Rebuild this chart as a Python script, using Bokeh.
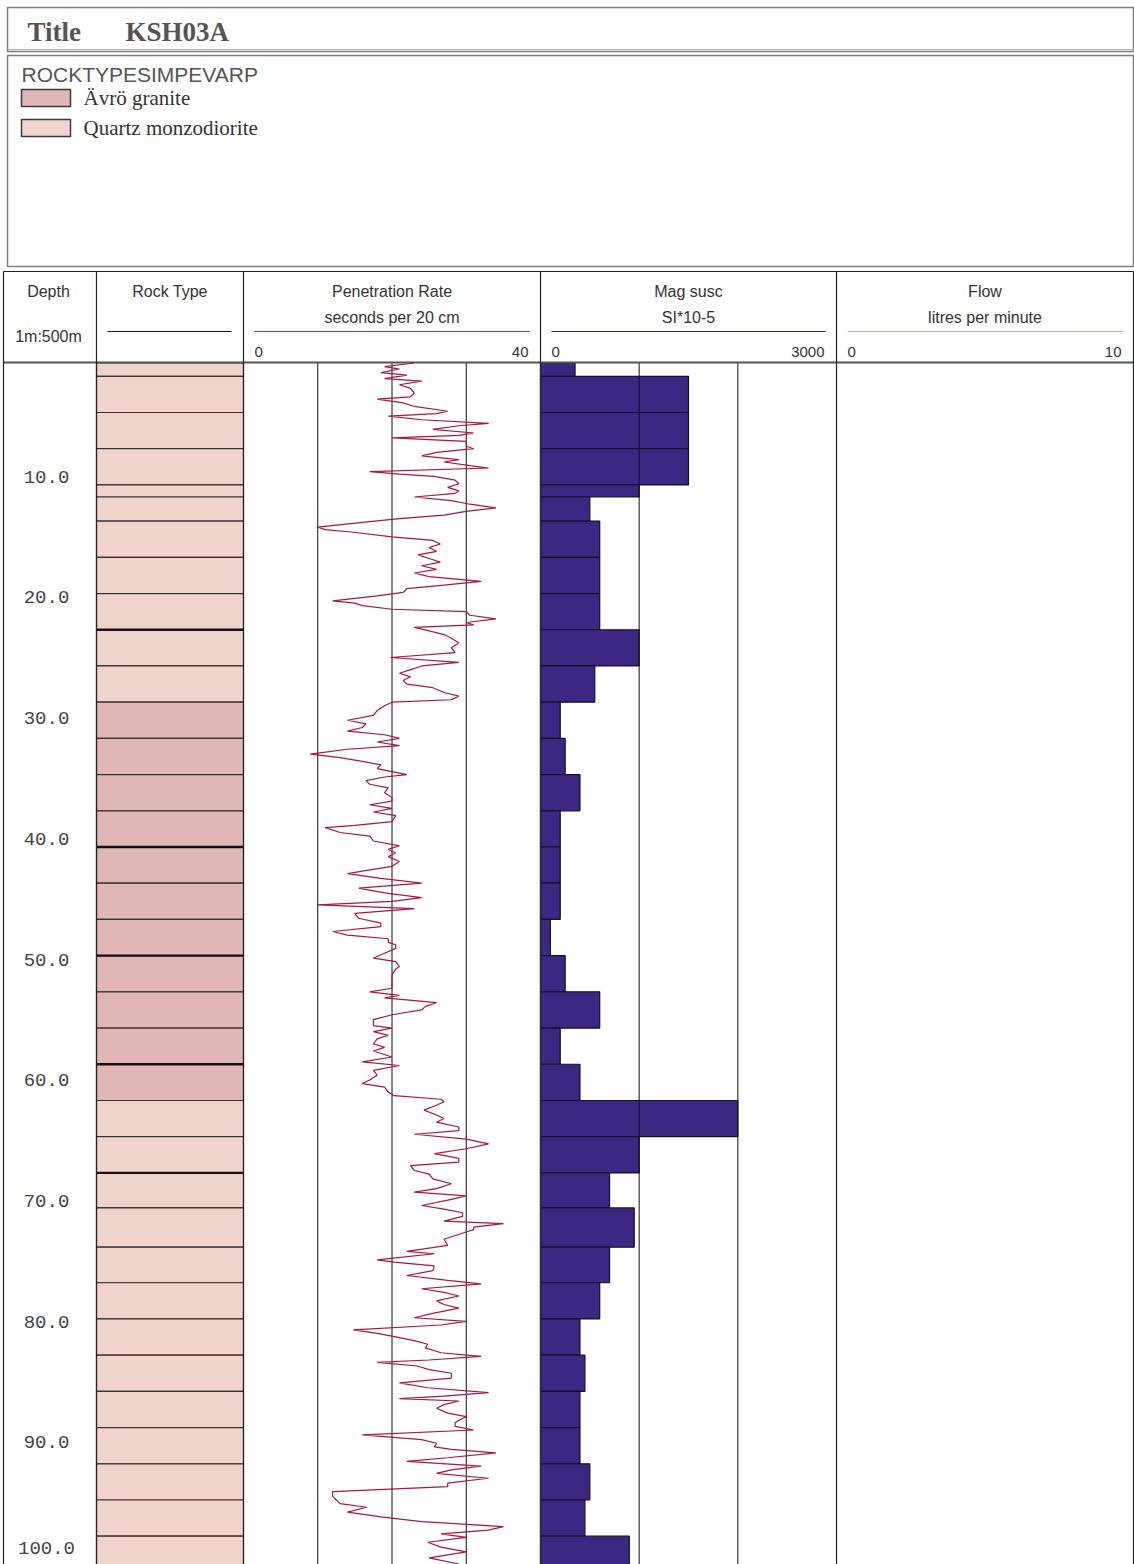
import numpy as np
from bokeh.plotting import figure
from bokeh.models import Range1d
from bokeh.embed import file_html
from bokeh.resources import INLINE
from bokeh.core.properties import value

# ---------------- data ----------------
title_label = "Title"
borehole = "KSH03A"
legend_title = "ROCKTYPESIMPEVARP"
rock_types = ["Ävrö granite", "Quartz monzodiorite"]
rock_colors = ["#e0b6b6", "#efd4cd"]

# interval boundaries (m) shared by rock type and mag susc logs
boundaries = [0, 1.1, 4.1, 7.1, 10.1, 11.1, 13.1, 16.1, 19.1, 22.1, 25.1, 28.1,
              31.1, 34.1, 37.1, 40.1, 43.1, 46.1, 49.1, 52.1, 55.1, 58.1, 61.1,
              64.1, 67.1, 70.0, 73.25, 76.2, 79.2, 82.2, 85.2, 88.2, 91.2, 94.2,
              97.2, 100.2]
rock_unit = (["Quartz monzodiorite"] * 11 + ["Ävrö granite"] * 11 +
             ["Quartz monzodiorite"] * 13)
rock_heavy_contacts = [22.1, 40.1, 49.1, 58.1, 67.1]
mag_susc = [350, 1500, 1500, 1500, 1000, 500, 600, 600, 600, 1000, 550, 200,
            250, 400, 200, 200, 200, 100, 250, 600, 200, 400, 2000, 1000, 700,
            950, 700, 600, 400, 450, 400, 400, 500, 450, 900]

pen_depth = [0.0, 0.3, 0.5, 0.8, 1.0, 1.3, 1.5, 1.8, 2.1, 2.5, 2.8, 3.0, 3.3, 3.6,
             4.0, 4.2, 4.4, 4.7, 5.0, 5.2, 5.5, 5.8, 6.0, 6.2, 6.5, 6.9, 7.1, 7.4,
             7.7, 8.0, 8.2, 8.5, 8.7, 9.0, 9.2, 9.4, 9.7, 10.0, 10.3, 10.6, 10.8,
             11.1, 11.4, 11.7, 12.0, 12.3, 12.6, 12.9, 13.2, 13.6, 13.8, 14.0,
             14.4, 14.7, 15.0, 15.3, 15.6, 15.9, 16.2, 16.5, 16.8, 17.1, 17.4,
             17.7, 18.1, 18.4, 18.7, 19.0, 19.3, 19.7, 19.9, 20.1, 20.4, 20.6,
             20.9, 21.2, 21.5, 21.7, 21.9, 22.2, 22.5, 22.8, 23.2, 23.6, 24.0,
             24.4, 24.8, 25.1, 25.4, 25.7, 26.0, 26.3, 26.6, 26.9, 27.3, 27.6,
             27.9, 28.1, 28.4, 28.8, 29.2, 29.6, 29.9, 30.2, 30.5, 30.8, 31.1,
             31.4, 31.7, 32.0, 32.4, 32.7, 33.0, 33.3, 33.6, 34.1, 34.3, 34.6,
             34.9, 35.2, 35.6, 36.0, 36.3, 36.6, 36.9, 37.2, 37.5, 38.0, 38.3,
             38.5, 38.9, 39.2, 39.6, 40.0, 40.3, 40.6, 40.9, 41.3, 41.7, 42.0,
             42.3, 42.7, 43.1, 43.5, 43.9, 44.3, 44.6, 44.9, 45.2, 45.6, 46.0,
             46.4, 46.7, 47.1, 47.4, 47.7, 48.0, 48.2, 48.5, 48.9, 49.3, 49.6,
             50.0, 50.2, 50.7, 51.2, 51.8, 52.1, 52.4, 52.6, 53.0, 53.3, 53.6,
             54.0, 54.4, 54.9, 55.1, 55.4, 55.7, 56.0, 56.4, 56.7, 57.0, 57.5,
             57.9, 58.2, 58.6, 59.0, 59.4, 59.7, 60.0, 60.4, 60.7, 61.0, 61.2,
             61.5, 61.9, 62.3, 62.6, 62.9, 63.3, 63.6, 63.9, 64.3, 64.7, 65.1,
             65.5, 65.9, 66.2, 66.5, 66.9, 67.2, 67.6, 68.0, 68.4, 68.7, 69.0,
             69.3, 69.8, 70.1, 70.4, 70.7, 71.1, 71.3, 71.6, 71.8, 72.0, 72.6,
             73.1, 73.6, 73.8, 74.3, 74.5, 74.8, 75.2, 75.6, 76.0, 76.3, 76.7,
             77.0, 77.3, 77.7, 78.0, 78.3, 78.8, 79.1, 79.4, 79.7, 80.1, 80.4,
             80.6, 81.0, 81.3, 81.6, 82.0, 82.3, 82.6, 82.8, 83.1, 83.4, 83.7,
             84.1, 84.5, 84.9, 85.3, 85.6, 85.8, 86.0, 86.3, 86.6, 87.0, 87.3,
             87.6, 87.8, 88.1, 88.4, 88.8, 89.2, 89.5, 89.8, 90.0, 90.3, 90.7,
             91.0, 91.4, 91.7, 92.0, 92.4, 92.8, 93.1, 93.5, 93.9, 94.2, 94.5,
             94.8, 95.2, 95.6, 96.0, 96.4, 96.7, 97.0, 97.3, 97.7, 98.1, 98.5,
             99.0, 99.5, 100.0]
pen_rate = [23, 19, 21, 18.5, 22, 19, 24, 21, 22.5, 23, 22.5, 18, 21.5, 23,
            27.5, 26, 19.5, 24, 33, 29, 25.5, 31, 29, 20, 30, 30, 31, 26,
            24, 29, 27, 30.5, 33, 17, 21, 25.7, 28.5, 29, 27.5, 29, 28.5,
            23, 28, 30.5, 34, 30, 27, 21, 16, 10, 11, 14.5,
            20, 25.5, 26.5, 25, 26, 23.5, 25, 26.5, 24, 26, 23,
            25, 32, 27, 22, 21.5, 18, 12, 15, 16, 20, 30,
            30.5, 34, 30, 31, 23, 25, 27, 28, 29, 28, 28.5,
            19.8, 29, 24, 22.5, 21, 22.5, 21.5, 22, 25.5, 27, 29,
            28, 20, 19, 18, 17.5, 14, 16.5, 16, 14, 19, 21,
            18, 21, 14, 9, 13, 16, 18.5, 18, 22, 19, 16.5,
            17, 19.5, 19, 20, 20, 17, 20, 17.5, 20.5, 20, 15,
            11, 13, 17, 17.5, 21, 19.5, 20.5, 19.5, 21, 20, 17,
            14, 18.5, 24, 15.5, 19, 24, 20, 10, 23, 15, 15.5,
            18.5, 18.5, 12, 14, 19.5, 19.5, 20.5, 20.5, 19, 17.5, 20.5,
            21, 20.5, 20, 20, 20, 17, 21, 19, 26, 24.5, 24,
            20, 17.5, 17.5, 20, 17.5, 19.5, 18, 17.5, 19, 17.5, 20,
            16, 21, 17.5, 18, 17, 16, 19, 19.5, 20.3, 26.6, 27,
            26, 24.3, 26, 27, 26, 29, 29, 23, 30, 33, 30,
            25.7, 29, 29, 22.5, 23, 25, 25.5, 28, 26, 23, 30,
            28, 24, 27, 29.5, 29.5, 27, 35, 31, 31, 30, 27,
            27.5, 22, 25.7, 18, 20.3, 25.7, 25.5, 22, 27.5, 32, 24,
            27, 29, 26, 27, 29, 25, 23, 30, 26.6, 14.8, 18,
            19.8, 23, 24.8, 24.5, 26.6, 32, 25, 18, 23.4, 25, 28,
            28, 21, 24.8, 33, 27, 21, 29, 27, 26, 27.5, 30,
            29, 28.5, 28.5, 31, 16, 24, 26, 25.7, 28, 34, 27.5,
            22, 32, 28, 26, 33, 27.5, 27.5, 12, 12, 12.5, 13,
            16.6, 14, 18.5, 24, 35, 33, 26.6, 30, 24.8, 26.6, 30,
            25, 29, 27]

depth_ticks = [10, 20, 30, 40, 50, 60, 70, 80, 90, 100]
pen_scale = [0, 40]
pen_grid = [10, 20, 30]
mag_scale = [0, 3000]
mag_grid = [1000, 2000]
flow_scale = [0, 10]

# ---------------- layout constants (pixels) ----------------
W, H = 1134, 1564
Y0 = 362.5          # pixel row of depth 0
PX_PER_M = 12.07
COL = [3, 96, 243, 540, 836, 1133]   # track edges
HDR_TOP, HDR_BOT = 271, 362

def track_range(lo_px, hi_px, scale):
    k = (scale[1] - scale[0]) / (hi_px - lo_px)
    return Range1d(start=scale[0] - lo_px * k, end=scale[0] + (W - lo_px) * k)

p = figure(width=W, height=H, x_range=Range1d(0, W), y_range=Range1d(H, 0),
           output_backend="svg", toolbar_location=None, min_border=0,
           x_axis_location=None, y_axis_location=None,
           outline_line_color=None, background_fill_color="white",
           border_fill_color="white")
p.grid.visible = False
p.extra_y_ranges = {"depth": Range1d(start=(H - Y0) / PX_PER_M, end=-Y0 / PX_PER_M)}
p.extra_x_ranges = {"pen": track_range(COL[2], COL[3], pen_scale),
                    "mag": track_range(COL[3], COL[4], mag_scale),
                    "flow": track_range(COL[4], COL[5], flow_scale)}

SANS = value("Liberation Sans")
SERIF = value("Liberation Serif")
MONO = value("Liberation Mono")
BOX = "#7d7d7d"

# ---------------- title box ----------------
p.quad(left=[7], right=[1133], top=[7], bottom=[51], fill_color=None,
       line_color=BOX, line_width=1.5)
p.segment(x0=[7], y0=[49], x1=[1133], y1=[49], line_color="#b0b0b0", line_width=1)
p.text(x=[27, 125], y=[31, 31], text=[title_label, borehole], text_font=SERIF,
       text_font_style="bold", text_font_size="27px", text_color="#555555",
       text_baseline="middle")

# ---------------- legend box ----------------
p.quad(left=[7], right=[1133], top=[55], bottom=[266], fill_color=None,
       line_color=BOX, line_width=1.5)
p.text(x=[21], y=[74], text=[legend_title], text_font=SANS, text_font_size="21px",
       text_color="#555555", text_baseline="middle")
leg_y = [97.5 + 30 * i for i in range(len(rock_types))]
p.quad(left=[21] * len(rock_types), right=[70] * len(rock_types),
       top=[y - 8.5 for y in leg_y], bottom=[y + 8.5 for y in leg_y],
       fill_color=rock_colors, line_color="#3a3a3a", line_width=1.5)
p.text(x=[83] * len(rock_types), y=leg_y, text=rock_types, text_font=SERIF,
       text_font_size="21px", text_color="#333333", text_baseline="middle")

# ---------------- rock type column ----------------
tops = boundaries[:-1]
bots = boundaries[1:]
rock_fill = [rock_colors[rock_types.index(r)] for r in rock_unit]
p.quad(left=[COL[1]] * len(tops), right=[COL[2]] * len(tops), top=tops, bottom=bots,
       fill_color=rock_fill, line_color="#3a3030", line_width=1.2,
       y_range_name="depth")
p.segment(x0=[COL[1]] * len(rock_heavy_contacts), x1=[COL[2]] * len(rock_heavy_contacts),
          y0=rock_heavy_contacts, y1=rock_heavy_contacts, line_color="#111111",
          line_width=2.4, y_range_name="depth")

# ---------------- mag susc bars ----------------
p.quad(left=[mag_scale[0]] * len(tops), right=mag_susc, top=tops, bottom=bots,
       fill_color="#3c2783", line_color="#15102a", line_width=1.2,
       x_range_name="mag", y_range_name="depth")

# ---------------- grid lines ----------------
dmax = (H - Y0) / PX_PER_M
p.segment(x0=pen_grid, x1=pen_grid, y0=[0] * len(pen_grid), y1=[dmax] * len(pen_grid),
          line_color="#111111", line_width=1, x_range_name="pen", y_range_name="depth")
p.segment(x0=mag_grid, x1=mag_grid, y0=[0] * len(mag_grid), y1=[dmax] * len(mag_grid),
          line_color="#111111", line_width=1, x_range_name="mag", y_range_name="depth")

# ---------------- penetration rate trace ----------------
p.line(x=pen_rate, y=pen_depth, line_color="#a8183c", line_width=1.2,
       x_range_name="pen", y_range_name="depth")

# ---------------- depth labels ----------------
# label sits just above its depth; the last one is nudged up to stay inside the page
lab_off = [-7] * (len(depth_ticks) - 1) + [-22]
p.text(x=[46] * len(depth_ticks), y=depth_ticks, y_offset=lab_off,
       text=["%.1f" % d for d in depth_ticks], text_font=MONO,
       text_font_size="19px", text_color="#444444", text_align="center",
       text_baseline="middle", y_range_name="depth")

# ---------------- log header & frame ----------------
p.segment(x0=[COL[0]], y0=[HDR_TOP], x1=[COL[-1]], y1=[HDR_TOP],
          line_color="#222222", line_width=1.2)
p.segment(x0=[COL[0]], y0=[HDR_BOT], x1=[COL[-1]], y1=[HDR_BOT],
          line_color="#555555", line_width=2)
p.segment(x0=COL, y0=[HDR_TOP] * len(COL), x1=COL, y1=[H] * len(COL),
          line_color="#222222", line_width=1.2)

hdr_title = ["Depth", "Rock Type", "Penetration Rate", "Mag susc", "Flow"]
hdr_unit = ["1m:500m", "", "seconds per 20 cm", "SI*10-5", "litres per minute"]
centers = [(COL[i] + COL[i + 1]) / 2 for i in range(5)]
centers[0] = 48
p.text(x=centers, y=[291] * 5, text=hdr_title, text_font=SANS,
       text_font_size="16px", text_color="#333333", text_align="center",
       text_baseline="middle")
p.text(x=centers[2:], y=[317] * 3, text=hdr_unit[2:], text_font=SANS,
       text_font_size="16px", text_color="#333333", text_align="center",
       text_baseline="middle")
p.text(x=[centers[0]], y=[336], text=[hdr_unit[0]], text_font=SANS,
       text_font_size="16px", text_color="#333333", text_align="center",
       text_baseline="middle")

# header scale lines
p.segment(x0=[107], y0=[331], x1=[231], y1=[331], line_color="#111111", line_width=1.2)
hl_col = ["#b5304e", "#2b2a5c", "#a9b0d2"]
p.segment(x0=[COL[i] + 11 for i in (2, 3, 4)], x1=[COL[i + 1] - 11 for i in (2, 3, 4)],
          y0=[331] * 3, y1=[331] * 3, line_color=hl_col, line_width=1.2)

# scale labels
for name, sc in (("pen", pen_scale), ("mag", mag_scale), ("flow", flow_scale)):
    p.text(x=[sc[0]], y=[351], text=[str(sc[0])], x_range_name=name, x_offset=11,
           text_font=SANS, text_font_size="15px", text_color="#333333",
           text_align="left", text_baseline="middle")
    p.text(x=[sc[1]], y=[351], text=[str(sc[1])], x_range_name=name, x_offset=-12,
           text_font=SANS, text_font_size="15px", text_color="#333333",
           text_align="right", text_baseline="middle")

open("out.html", "w").write(file_html(p, INLINE))
